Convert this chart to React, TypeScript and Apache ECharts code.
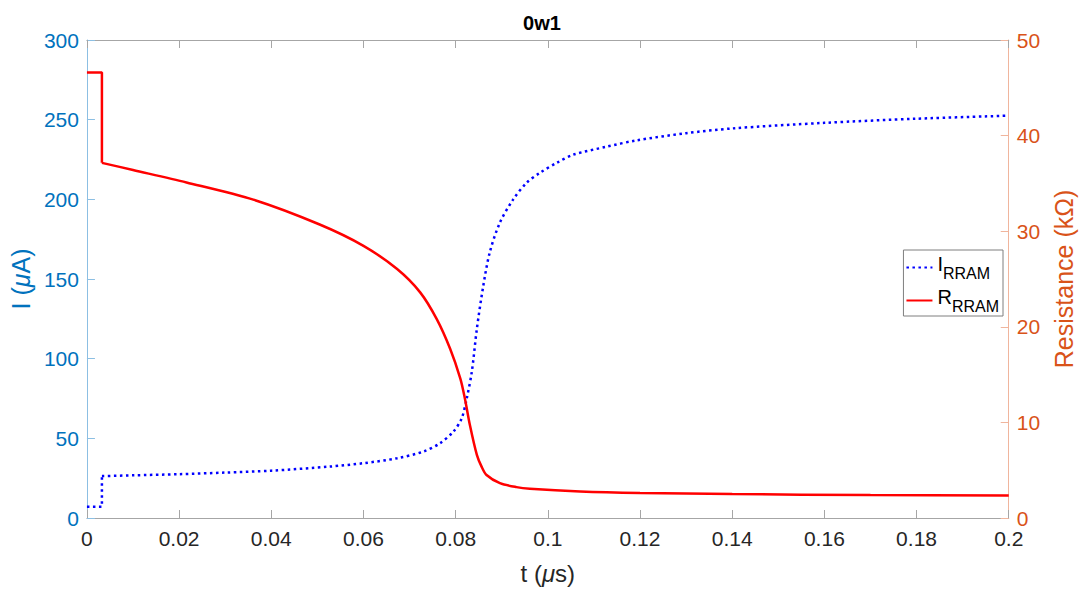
import React, { useEffect, useRef } from "react";
import * as echarts from "echarts";

// I_RRAM (µA) vs t (µs)
const tI = [0, 0.00325, 0.00325, 0.01, 0.02, 0.03, 0.04, 0.0528, 0.06, 0.0673, 0.073, 0.0766, 0.0795, 0.0813, 0.0824, 0.0835, 0.0846, 0.086, 0.0874, 0.0896, 0.0925, 0.0954, 0.0983, 0.102, 0.1055, 0.1127, 0.1192, 0.13, 0.14, 0.16, 0.18, 0.2];
const iVals = [7, 7, 26.3, 26.8, 27.5, 28.5, 29.7, 32.3, 34.4, 37.5, 41.7, 46.9, 54.2, 62.5, 75, 91.7, 118.75, 145.8, 166.7, 185.4, 200, 210.4, 216.7, 223, 228, 233, 237, 241.5, 244.5, 248, 250.6, 252.5];

// R_RRAM (kΩ) vs t (µs)
const tR = [0, 0.00325, 0.00325, 0.01, 0.0216, 0.0361, 0.0505, 0.06, 0.0673, 0.0723, 0.0759, 0.0788, 0.081, 0.082, 0.0831, 0.0846, 0.0856, 0.0867, 0.0896, 0.0932, 0.0961, 0.107, 0.12, 0.14, 0.17, 0.2];
const rVals = [46.6, 46.6, 37.15, 36.4, 35.1, 33.3, 30.7, 28.47, 26.04, 23.6, 20.8, 17.7, 14.6, 12.5, 9.7, 6.6, 5.4, 4.5, 3.65, 3.23, 3.06, 2.78, 2.62, 2.5, 2.4, 2.35];

const FONT = "'Liberation Sans', Arial, Helvetica, sans-serif";
const BLUE_AX = "#0072BD";
const ORANGE_AX = "#D95319";
const FRAME = "#a6a6a6";

const pairs = (xs: number[], ys: number[]) => xs.map((x, k) => [x, ys[k]]);

export default function App() {
  const ref = useRef<HTMLDivElement>(null);
  useEffect(() => {
    if (!ref.current) return;
    const chart = echarts.init(ref.current, undefined, { renderer: "svg" });
    const fmtX = (v: number) => String(parseFloat(v.toFixed(3)));
    const iData = pairs(tI, iVals);
    const rData = pairs(tR, rVals);
    const iStyle = { color: "#0000FF", width: 2.5, type: [2.5, 3.5] };
    const rStyle = { color: "#FF0000", width: 2.5 };
    chart.setOption({
      animation: false,
      textStyle: { fontFamily: FONT },
      title: {
        text: "0w1",
        left: "center",
        top: 8,
        textStyle: { fontFamily: FONT, fontSize: 20, fontWeight: "bold", color: "#000" },
      },
      grid: { left: 86, right: 74, top: 40, bottom: 70, containLabel: false },
      legend: {
        orient: "vertical",
        right: 81,
        top: 250,
        itemWidth: 26,
        itemHeight: 12,
        itemGap: 6,
        backgroundColor: "#fff",
        borderColor: "#7f7f7f",
        borderWidth: 1,
        borderRadius: 0,
        padding: [4, 4, 2, 2],
        itemStyle: { opacity: 0 },
        data: ["I_RRAM", "R_RRAM"],
        formatter: (name: string) => (name === "I_RRAM" ? "{m|I}{s|RRAM}" : "{m|R}{s|RRAM}"),
        textStyle: {
          fontFamily: FONT,
          color: "#000",
          rich: {
            m: { fontSize: 20, color: "#000", fontFamily: FONT, padding: [0, 0, 7, 0], verticalAlign: "bottom" },
            s: { fontSize: 16, color: "#000", fontFamily: FONT, verticalAlign: "bottom" },
          },
        },
      },
      xAxis: [
        {
          type: "value",
          min: 0,
          max: 0.2,
          interval: 0.02,
          position: "bottom",
          name: "t ({i|μ}s)",
          nameLocation: "middle",
          nameGap: 43,
          nameTextStyle: {
            fontFamily: FONT,
            fontSize: 24,
            color: "#262626",
            rich: { i: { fontStyle: "italic", fontSize: 24, color: "#262626", fontFamily: FONT } },
          },
          axisLine: { show: true, onZero: false, lineStyle: { color: FRAME, width: 1 } },
          axisTick: { show: true, inside: true, length: 8, lineStyle: { color: FRAME } },
          axisLabel: { fontSize: 21, color: "#262626", margin: 10, formatter: fmtX, fontFamily: FONT },
          splitLine: { show: false },
        },
        {
          type: "value",
          min: 0,
          max: 0.2,
          interval: 0.02,
          position: "top",
          axisLine: { show: true, onZero: false, lineStyle: { color: FRAME, width: 1 } },
          axisTick: { show: true, inside: true, length: 8, lineStyle: { color: FRAME } },
          axisLabel: { show: false },
          splitLine: { show: false },
        },
      ],
      yAxis: [
        {
          type: "value",
          min: 0,
          max: 300,
          interval: 50,
          position: "left",
          name: "I ({i|μ}A)",
          nameLocation: "middle",
          nameGap: 52,
          nameRotate: 90,
          nameTextStyle: {
            fontFamily: FONT,
            fontSize: 25,
            color: BLUE_AX,
            rich: { i: { fontStyle: "italic", fontSize: 25, color: BLUE_AX, fontFamily: FONT } },
          },
          axisLine: { show: true, onZero: false, lineStyle: { color: "#8cbfe3", width: 1 } },
          axisTick: { show: true, inside: true, length: 8, lineStyle: { color: "#8cbfe3" } },
          axisLabel: { fontSize: 21, color: BLUE_AX, margin: 8, fontFamily: FONT },
          splitLine: { show: false },
        },
        {
          type: "value",
          min: 0,
          max: 50,
          interval: 10,
          position: "right",
          name: "Resistance (kΩ)",
          nameLocation: "middle",
          nameGap: 42,
          nameRotate: 90,
          nameTextStyle: { fontFamily: FONT, fontSize: 25, color: ORANGE_AX },
          axisLine: { show: true, onZero: false, lineStyle: { color: "#f0b59d", width: 1 } },
          axisTick: { show: true, inside: true, length: 8, lineStyle: { color: "#f0b59d" } },
          axisLabel: { fontSize: 21, color: ORANGE_AX, margin: 8, fontFamily: FONT },
          splitLine: { show: false },
        },
      ],
      series: [
        {
          name: "I_RRAM",
          type: "line",
          yAxisIndex: 0,
          symbol: "none",
          data: iData.slice(0, 3),
          lineStyle: iStyle,
          itemStyle: { color: "#0000FF" },
        },
        {
          name: "I_RRAM",
          type: "line",
          yAxisIndex: 0,
          symbol: "none",
          smooth: 0.3,
          data: iData.slice(2),
          lineStyle: iStyle,
          itemStyle: { color: "#0000FF" },
        },
        {
          name: "R_RRAM",
          type: "line",
          yAxisIndex: 1,
          symbol: "none",
          data: rData.slice(0, 3),
          lineStyle: rStyle,
          itemStyle: { color: "#FF0000" },
        },
        {
          name: "R_RRAM",
          type: "line",
          yAxisIndex: 1,
          symbol: "none",
          smooth: 0.3,
          data: rData.slice(2),
          lineStyle: rStyle,
          itemStyle: { color: "#FF0000" },
        },
      ],
    });
    return () => chart.dispose();
  }, []);
  return (
    <div
      ref={ref}
      style={{ position: "fixed", left: 0, top: 0, width: 1084, height: 590, background: "#fff" }}
    />
  );
}
